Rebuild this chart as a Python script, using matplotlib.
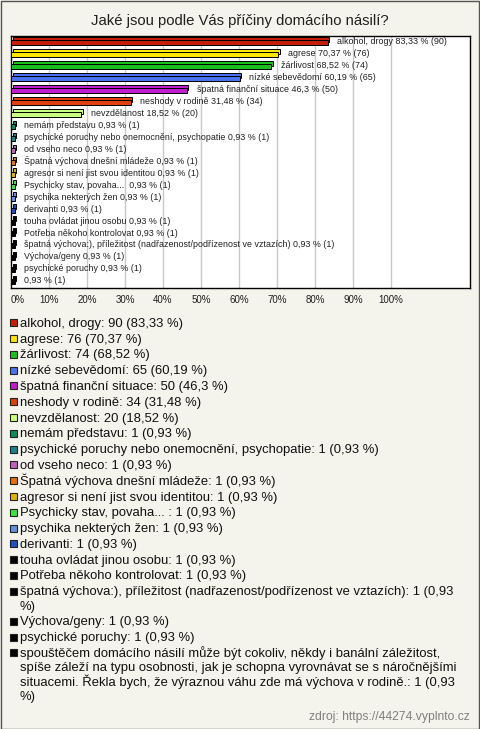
import matplotlib
matplotlib.use("Agg")
import matplotlib.pyplot as plt
from matplotlib.patches import Rectangle
from matplotlib.font_manager import FontProperties

# Data
categories = [
    "alkohol, drogy", "agrese", "žárlivost", "nízké sebevědomí",
    "špatná finanční situace", "neshody v rodině", "nevzdělanost",
    "nemám představu", "psychické poruchy nebo onemocnění, psychopatie",
    "od vseho neco", "Špatná výchova dnešní mládeže",
    "agresor si není jist svou identitou", "Psychicky stav, povaha... ",
    "psychika nekterých žen", "derivanti", "touha ovládat jinou osobu",
    "Potřeba někoho kontrolovat",
    "špatná výchova:), příležitost (nadřazenost/podřízenost ve vztazích)",
    "Výchova/geny", "psychické poruchy",
    "spouštěčem domácího násilí může být cokoliv, někdy i banální záležitost, "
    "spíše záleží na typu osobnosti, jak je schopna vyrovnávat se s náročnějšími "
    "situacemi. Řekla bych, že výraznou váhu zde má výchova v rodině.",
]
counts = [90, 76, 74, 65, 50, 34, 20, 1, 1, 1, 1, 1, 1, 1, 1, 1, 1, 1, 1, 1, 1]
percents = [83.33, 70.37, 68.52, 60.19, 46.3, 31.48, 18.52,
            0.93, 0.93, 0.93, 0.93, 0.93, 0.93, 0.93, 0.93, 0.93, 0.93,
            0.93, 0.93, 0.93, 0.93]
colors = ["#c41e0a", "#ffe600", "#1bbf1b", "#4a72f0", "#c01cd0", "#e04010",
          "#c8ff80", "#108a5a", "#208090", "#c060c0", "#e07010", "#e0b010",
          "#40e040", "#6090e0", "#2050c0", "#000000", "#000000", "#000000",
          "#000000", "#000000", "#000000"]
xticks = [0, 10, 20, 30, 40, 50, 60, 70, 80, 90, 100]

bg = "#f4f3ec"
W, H = 480, 729
plt.rcParams['font.family'] = ['Liberation Sans', 'DejaVu Sans']
fig = plt.figure(figsize=(W / 100, H / 100), dpi=100, facecolor=bg)

def fx(px):
    return px / W

def fy(py):
    return 1 - py / H

fmt = lambda p: f"{p:g}".replace(".", ",")

# outer frame
fig.patches.append(Rectangle((0.5 / W, 0.5 / H), 1 - 1.5 / W, 1 - 1.5 / H,
                             transform=fig.transFigure, fill=False,
                             edgecolor="#555555", lw=1))

fig.text(0.5, fy(21), "Jaké jsou podle Vás příčiny domácího násilí?",
         ha="center", va="center", fontsize=10.7, color="#202020")

ax = fig.add_axes([fx(11), fy(288), fx(470) - fx(11), fy(36) - fy(288)])
ax.set_facecolor("white")
n = len(categories)
ys = list(range(n))

# 3D-ish bars: top face (shifted) then front face
dx, dy = 0.4, 0.17
ax.barh([y - 0.02 - dy for y in ys], percents, left=dx, height=0.42,
        color=colors, edgecolor="black", lw=0.7, zorder=3)
ax.barh([y + 0.08 for y in ys], percents, height=0.42,
        color=colors, edgecolor="black", lw=0.7, zorder=4)

for y, name, p, c in zip(ys, categories, percents, counts):
    nm = name if len(name) < 100 else ""
    txt = (nm + " " if nm else "") + f"{fmt(p)} % ({c})"
    ax.annotate(txt, (p, y), xytext=(7, 0), textcoords="offset points",
                va="center", ha="left", fontsize=6.4, color="#202020", zorder=5)

ax.set_xlim(0, 120.8)
ax.set_ylim(n - 0.4, -0.48)
ax.set_xticks(xticks)
ax.set_xticklabels([f"{t}%" for t in xticks], fontsize=7, color="#202020")
ax.get_xticklabels()[0].set_ha("left")
ax.set_yticks([])
ax.tick_params(axis="x", length=0, pad=5)
for t in xticks[1:]:
    ax.axvline(t, color="#c8c8c8", lw=1, zorder=1)
for s in ax.spines.values():
    s.set_color("black")
    s.set_linewidth(1)

# legend, wrapped by pixel width
renderer = fig.canvas.get_renderer()
lfp = FontProperties(family=['Liberation Sans', 'DejaVu Sans'], size=9.4)

def wrap_px(s, maxw):
    out, line = [], ""
    for w in s.split(" "):
        cand = (line + " " + w) if line else w
        wpx = renderer.get_text_width_height_descent(cand, lfp, ismath=False)[0]
        if wpx > maxw and line:
            out.append(line)
            line = w
        else:
            line = cand
    out.append(line)
    return out

cur = 322.7
for name, p, c, col in zip(categories, percents, counts, colors):
    entry = f"{name}: {c} ({fmt(p)} %)"
    lines = wrap_px(entry, 448)
    fig.patches.append(Rectangle((fx(10), fy(cur + 3.5)), 7 / W, 7 / H,
                                 transform=fig.transFigure, facecolor=col,
                                 edgecolor="#222222", lw=0.8))
    for k, ln in enumerate(lines):
        fig.text(fx(20), fy(cur + 4 + 14.3 * k), ln, ha="left", va="baseline",
                 fontproperties=lfp, color="#111111")
    cur += 15.8 + 14.3 * (len(lines) - 1)

fig.text(fx(470), fy(717), "zdroj: https://44274.vyplnto.cz", ha="right",
         va="center", fontsize=8.7, color="#808080")

fig.savefig("out.png", dpi=100, facecolor=bg)
